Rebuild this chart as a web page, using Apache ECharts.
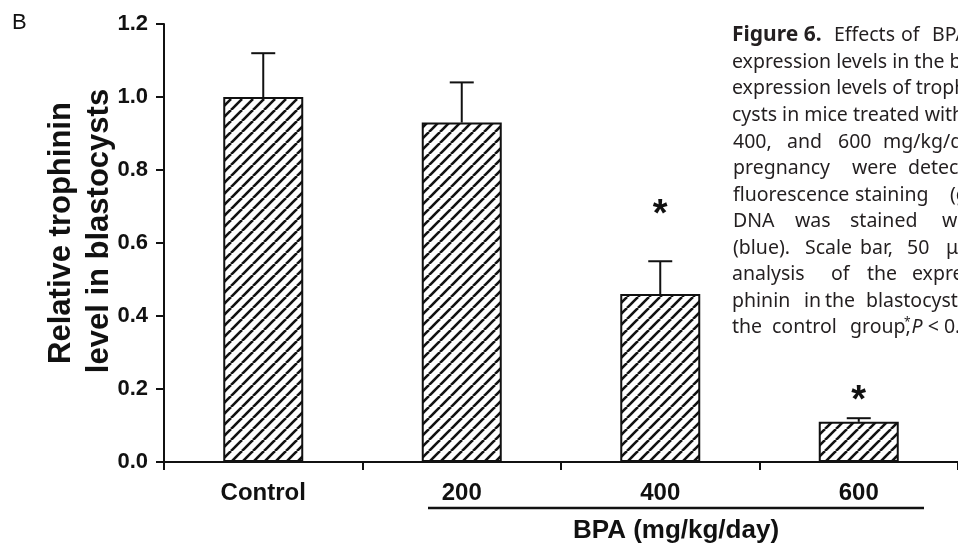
<!DOCTYPE html>
<html>
<head>
<meta charset="utf-8">
<script src="https://cdn.jsdelivr.net/npm/echarts@6/dist/echarts.min.js"></script>
<style>
html,body{margin:0;padding:0;background:#ffffff;}
#chart{width:958px;height:548px;}
</style>
</head>
<body>
<div id="chart"></div>
<script>
// ---- data ----
const categories = ['Control', '200', '400', '600'];
const meanValues = [1.0, 0.93, 0.46, 0.11];
const errorTops = [1.12, 1.04, 0.55, 0.12];
const sigLabels = ['', '', '*', '*'];
const sigValues = [null, null, 0.70, 0.19];
const yMin = 0, yMax = 1.2, yStep = 0.2;
const yAxisTitle = ['Relative trophinin', 'level in blastocysts'];
const xAxisTitle = 'BPA (mg/kg/day)';
const panelLabel = 'B';

// caption lines: [y, [[x, text, bold?], ...]]
const captionLines = [
  [35, [[732, 'Figure 6.', true], [834, 'Effects'], [901, 'of'], [932, 'BPA on trophinin']]],
  [62, [[732, 'expression levels in the blastocysts. (A) The']]],
  [88, [[732, 'expression levels of trophinin in the blasto-']]],
  [115, [[732, 'cysts in mice treated with BPA at 0, 200,']]],
  [142, [[733, '400,'], [787, 'and'], [838, '600'], [883, 'mg/kg/day from day 1 to 4']]],
  [168, [[733, 'pregnancy'], [852, 'were'], [908, 'detected by immuno-']]],
  [195, [[733, 'fluorescence'], [855, 'staining'], [950, '(green). Nuclear']]],
  [221, [[733, 'DNA'], [795, 'was'], [850, 'stained'], [942, 'with propidium iodide']]],
  [248, [[733, '(blue).'], [805, 'Scale'], [860, 'bar,'], [907, '50'], [946, 'μm. (B) Quantitative']]],
  [274, [[732, 'analysis'], [831, 'of'], [867, 'the'], [912, 'expression levels of tro-']]],
  [301, [[732, 'phinin'], [804, 'in'], [825, 'the'], [866, 'blastocysts. Compared']]],
  [327, [[732, 'the'], [772, 'control'], [850, 'group,'], [904, '{s|*}{i|P} < 0.05.']]]
];

// ---- hatch pattern ----
function makeHatch() {
  const s = 11;
  const c = document.createElement('canvas');
  c.width = s; c.height = s;
  const ctx = c.getContext('2d');
  ctx.fillStyle = '#ffffff';
  ctx.fillRect(0, 0, s, s);
  ctx.strokeStyle = '#111111';
  ctx.lineWidth = 2.6;
  for (let k = -1; k <= 1; k++) {
    ctx.beginPath();
    ctx.moveTo(k * s, s);
    ctx.lineTo(k * s + s, 0);
    ctx.stroke();
  }
  return c;
}

const chart = echarts.init(document.getElementById('chart'), null, {renderer: 'canvas'});

const capFont = '"Noto Sans", sans-serif';
const graphics = [];
graphics.push({type: 'text', left: 12, top: 12, style: {text: panelLabel, font: '22px "Liberation Sans", Arial, sans-serif', fill: '#111'}});
graphics.push({type: 'text', x: 61, y: 233, rotation: Math.PI / 2,
  style: {text: yAxisTitle[0], font: 'bold 31px "Liberation Sans", Arial, sans-serif', fill: '#111', align: 'center', verticalAlign: 'middle'}});
graphics.push({type: 'text', x: 99, y: 231, rotation: Math.PI / 2,
  style: {text: yAxisTitle[1], font: 'bold 31px "Liberation Sans", Arial, sans-serif', fill: '#111', align: 'center', verticalAlign: 'middle'}});
graphics.push({type: 'line', shape: {x1: 428, y1: 508, x2: 924, y2: 508}, style: {stroke: '#111', lineWidth: 2.5}});
graphics.push({type: 'text', x: 676, y: 531,
  style: {text: xAxisTitle, font: 'bold 26px "Liberation Sans", Arial, sans-serif', fill: '#111', align: 'center', verticalAlign: 'middle'}});
captionLines.forEach(function (ln) {
  ln[1].forEach(function (seg) {
    graphics.push({type: 'text', x: seg[0], y: ln[0],
      style: {text: seg[1], font: (seg[2] ? 'bold 21px ' : '19.5px ') + capFont, fill: '#231f20', verticalAlign: 'middle',
        rich: {s: {fontSize: 12, verticalAlign: 'top', fill: '#231f20', fontFamily: 'Noto Sans', padding: [0, 1, 8, 0]},
               i: {fontStyle: 'italic', fontSize: 19.5, fill: '#231f20', fontFamily: 'Noto Sans'}}}});
  });
});

const option = {
  backgroundColor: '#ffffff',
  animation: false,
  grid: {left: 164, top: 24, bottom: 86, right: -6, containLabel: false},
  xAxis: {
    type: 'category',
    data: categories,
    boundaryGap: true,
    axisLine: {lineStyle: {color: '#111', width: 2}},
    axisTick: {show: true, alignWithLabel: false, length: 8, lineStyle: {color: '#111', width: 2}},
    axisLabel: {color: '#111', fontFamily: '"Liberation Sans", Arial, sans-serif', fontWeight: 'bold', fontSize: 24, lineHeight: 24, margin: 19},
    splitLine: {show: false}
  },
  yAxis: {
    type: 'value',
    min: yMin, max: yMax, interval: yStep,
    axisLine: {show: true, lineStyle: {color: '#111', width: 2}},
    axisTick: {show: true, length: 8, lineStyle: {color: '#111', width: 2}},
    axisLabel: {color: '#111', fontFamily: '"Liberation Sans", Arial, sans-serif', fontWeight: 'bold', fontSize: 22, margin: 16,
      formatter: function (v) { return v.toFixed(1); }},
    splitLine: {show: false}
  },
  series: [
    {
      type: 'bar',
      data: meanValues,
      barWidth: 80,
      itemStyle: {color: {image: makeHatch(), repeat: 'repeat'}, borderColor: '#111', borderWidth: 2},
      z: 2
    },
    {
      type: 'custom',
      data: categories.map(function (c, i) { return [i, meanValues[i], errorTops[i]]; }),
      renderItem: function (params, api) {
        const base = api.coord([api.value(0), api.value(1)]);
        const top = api.coord([api.value(0), api.value(2)]);
        const hw = 12;
        return {type: 'group', children: [
          {type: 'line', shape: {x1: top[0], y1: base[1], x2: top[0], y2: top[1]}, style: {stroke: '#111', lineWidth: 2}},
          {type: 'line', shape: {x1: top[0] - hw, y1: top[1], x2: top[0] + hw, y2: top[1]}, style: {stroke: '#111', lineWidth: 2}}
        ]};
      },
      z: 3
    },
    {
      type: 'custom',
      data: sigValues.map(function (v, i) { return [i, v]; }).filter(function (d) { return d[1] != null; }),
      renderItem: function (params, api) {
        const idx = api.value(0);
        const pt = api.coord([idx, api.value(1)]);
        return {type: 'text', x: pt[0], y: pt[1] + 9,
          style: {text: sigLabels[idx], font: 'bold 38px "Liberation Sans", Arial, sans-serif', fill: '#111', align: 'center', verticalAlign: 'middle'}};
      },
      z: 4
    }
  ],
  graphic: graphics
};
chart.setOption(option);
</script>
</body>
</html>
